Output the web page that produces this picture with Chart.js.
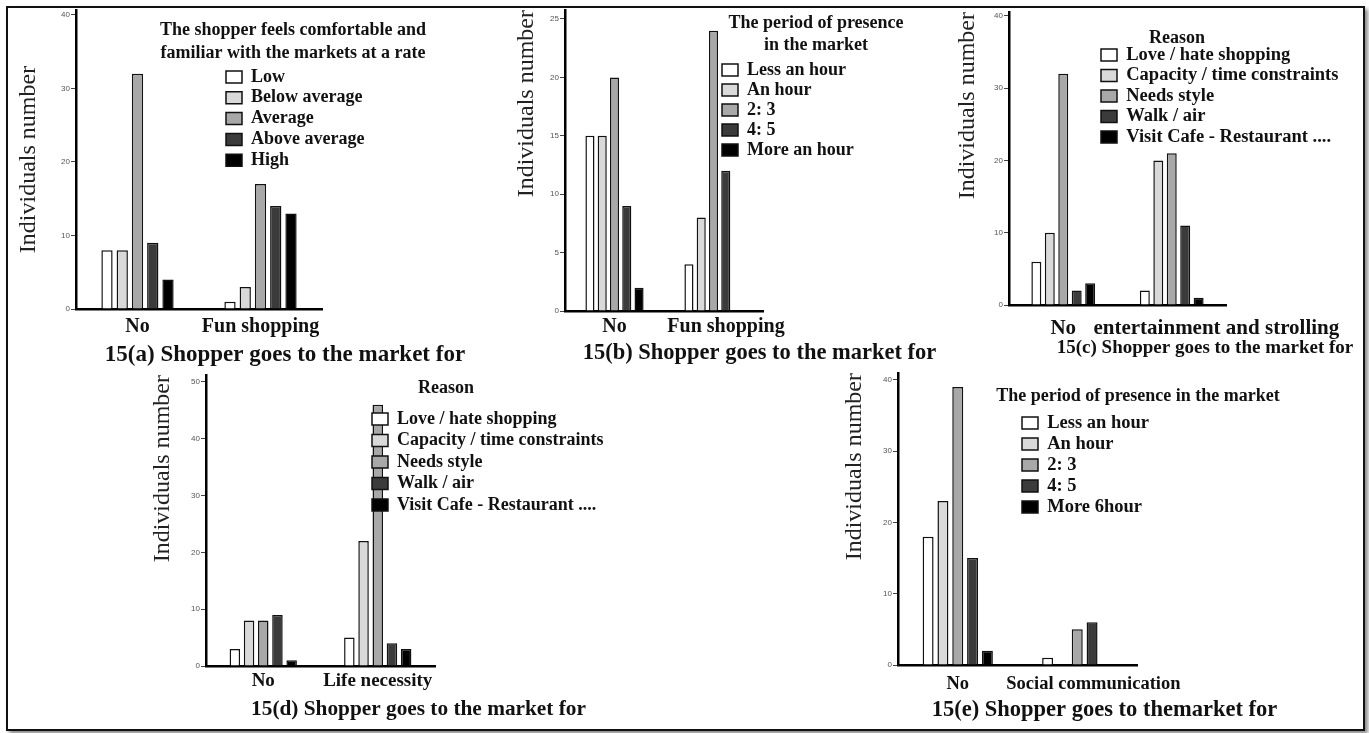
<!DOCTYPE html>
<html>
<head>
<meta charset="utf-8">
<title>Shopper goes to the market for</title>
<script src="https://cdn.jsdelivr.net/npm/chart.js@4.4.1/dist/chart.umd.min.js"></script>
<style>
  html, body { margin: 0; padding: 0; background: #fff; }
  #page { position: relative; width: 1369px; height: 733px; overflow: hidden; background: #fff; }
  #frame { position: absolute; left: 6px; top: 6px; width: 1355px; height: 721px; border: 2px solid #111; box-shadow: 3px 3px 4px #8a8a8a; }
  canvas { position: absolute; }
</style>
</head>
<body>
<div id="page">
  <div id="frame"></div>
  <canvas id="chartA"></canvas>
  <canvas id="chartB"></canvas>
  <canvas id="chartC"></canvas>
  <canvas id="chartD"></canvas>
  <canvas id="chartE"></canvas>
</div>
<script>
// x axis categories of each panel
const catsA = ['No', 'Fun shopping'];
const catsB = ['No', 'Fun shopping'];
const catsC = ['No', 'entertainment and strolling'];
const catsD = ['No', 'Life necessity'];
const catsE = ['No', 'Social communication'];

// legend entries
const comfortLevels = ['Low', 'Below average', 'Average', 'Above average', 'High'];
const periodsB = ['Less an hour', 'An hour', '2: 3', '4: 5', 'More an hour'];
const reasons = ['Love / hate shopping', 'Capacity / time constraints', 'Needs style', 'Walk / air', 'Visit Cafe - Restaurant ....'];
const periodsE = ['Less an hour', 'An hour', '2: 3', '4: 5', 'More 6hour'];

// individuals number (one value per legend entry, per category)
const aNo = [8, 8, 32, 9, 4];
const aFun = [1, 3, 17, 14, 13];
const bNo = [15, 15, 20, 9, 2];
const bFun = [4, 8, 24, 12, 0];
const cNo = [6, 10, 32, 2, 3];
const cFun = [2, 20, 21, 11, 1];
const dNo = [3, 8, 8, 9, 1];
const dLife = [5, 22, 46, 4, 3];
const eNo = [18, 23, 39, 15, 2];
const eSocial = [1, 0, 5, 6, 0];

// y axis tick steps
const yStepA = 10, yStepB = 5, yStepC = 10, yStepD = 10, yStepE = 10;

const serif = "'Liberation Serif', 'Times New Roman', serif";
const shades = ['#ffffff', '#d9d9d9', '#a8a8a8', '#3b3b3b', '#000000'];

Chart.defaults.font.family = serif;
Chart.defaults.color = '#111';

// puts the legend where the figure has it, drawn above the bars
const legendSpot = {
  id: 'legendSpot',
  beforeLayout(chart) {
    const lg = chart.legend;
    if (lg && !lg._spotted) {
      lg._spotted = true;
      lg._layers = () => [{ z: 1, draw: () => { if (lg.options.display) lg._draw(); } }];
    }
  },
  afterLayout(chart, args, opts) {
    const lg = chart.legend;
    if (!lg) return;
    const pad = lg.options.labels.padding;
    lg.left = opts.x - pad;
    lg.top = opts.top;
    lg.width = 2 * (opts.titleX - lg.left);
    lg.right = chart.width;
    lg.bottom = chart.height;
  }
};

function makePanel(p) {
  const canvas = document.getElementById(p.id);
  const left = p.yTitleX - 16;
  const top = p.top - 10;
  const yW = p.axisX - left;
  const W = Math.round(2 * (p.captionX - left));
  const rightW = left + W - p.axisRight;
  const capLH = p.capSize * 1.2;
  const inner = p.zero - top + p.xH + p.capPad + capLH;
  const H = Math.ceil(inner + 2);
  canvas.width = W;
  canvas.height = H;
  canvas.style.left = left + 'px';
  canvas.style.top = top + 'px';

  // legend geometry (canvas coords)
  const pad = p.spacing - p.fs;
  const lgTop = p.titleY - top - p.tfs / 2;
  const titleBottom = (p.legendY - top) - p.fs / 2 - pad - lgTop - p.tfs * p.tlh;

  const datasets = p.series.map(function (name, i) {
    return {
      label: name,
      data: p.groups.map(function (g) { return g[i]; }),
      backgroundColor: shades[i],
      borderColor: '#111',
      borderWidth: 1.5,
      categoryPercentage: 0.62,
      barPercentage: 0.74
    };
  });

  return new Chart(canvas, {
    type: 'bar',
    data: { labels: p.cats, datasets: datasets },
    options: {
      responsive: false,
      animation: false,
      layout: { padding: { left: 0, right: 0, top: 10, bottom: H - inner } },
      scales: {
        x: {
          grid: { display: false, drawTicks: false },
          border: { display: true, color: '#000', width: 2.5 },
          ticks: {
            autoSkip: false,
            maxRotation: 0,
            padding: p.xPad,
            color: '#111',
            font: { size: p.xFont, weight: 'bold' },
            callback: function (value, index) {
              const s = this.getLabelForValue(value);
              return (index === 1 && p.lead) ? ' '.repeat(p.lead) + s : s;
            }
          },
          afterFit: function (s) { s.height = p.xH; }
        },
        y: {
          min: 0,
          max: p.yMax,
          border: { display: true, color: '#000', width: 2.5 },
          grid: { drawOnChartArea: false, drawTicks: true, tickLength: 5, color: '#444' },
          ticks: {
            stepSize: p.yStep,
            includeBounds: false,
            padding: 1,
            color: '#555',
            font: { family: "'Liberation Sans', sans-serif", size: 8 }
          },
          title: {
            display: true,
            text: 'Individuals number',
            align: p.yAlign,
            color: '#222',
            padding: { top: 16 - 24 * 1.2 / 2, bottom: 0 },
            font: { size: 24 }
          },
          afterFit: function (s) { s.width = yW; }
        },
        pad: {
          position: 'right',
          grid: { display: false },
          border: { display: false },
          ticks: { display: false },
          afterFit: function (s) { s.width = rightW; }
        }
      },
      plugins: {
        title: {
          display: true,
          position: 'bottom',
          text: p.caption,
          color: '#111',
          font: { size: p.capSize, weight: 'bold' },
          padding: { top: p.capPad, bottom: 0 }
        },
        legend: {
          position: 'chartArea',
          align: 'start',
          labels: {
            boxWidth: 16,
            boxHeight: 12,
            padding: pad,
            textAlign: 'left',
            color: '#111',
            font: { size: p.fs, weight: 'bold' }
          },
          title: {
            display: true,
            text: p.legendTitle,
            color: '#111',
            font: { size: p.tfs, weight: 'bold', lineHeight: p.tlh },
            padding: { top: 0, bottom: titleBottom }
          }
        },
        tooltip: { enabled: false },
        legendSpot: { x: p.legendX - left, top: lgTop, titleX: p.titleX - left }
      }
    },
    plugins: [legendSpot]
  });
}

makePanel({
  id: 'chartA', cats: catsA, series: comfortLevels, groups: [aNo, aFun],
  axisX: 76, axisRight: 322, top: 10, zero: 309, yMax: 40.68, yStep: yStepA,
  yTitleX: 29, yAlign: 'center',
  caption: '15(a) Shopper goes to the market for', captionX: 285, capSize: 23, capPad: -7.8,
  xH: 40, xPad: 6, xFont: 20,
  legendTitle: ['The shopper feels comfortable and', 'familiar with the markets at a rate'],
  legendX: 226, legendY: 77, spacing: 20.8, fs: 18, titleX: 293, titleY: 30, tfs: 18, tlh: 23 / 18
});

makePanel({
  id: 'chartB', cats: catsB, series: periodsB, groups: [bNo, bFun],
  axisX: 565, axisRight: 763, top: 10, zero: 311, yMax: 25.77, yStep: yStepB,
  yTitleX: 527, yAlign: 'end',
  caption: '15(b) Shopper goes to the market for', captionX: 759.5, capSize: 22.5, capPad: -11.5,
  xH: 40, xPad: 4, xFont: 20, lead: 5,
  legendTitle: ['The period of presence', 'in the market'],
  legendX: 722, legendY: 70, spacing: 20, fs: 18, titleX: 816, titleY: 23, tfs: 18, tlh: 22 / 18
});

makePanel({
  id: 'chartC', cats: catsC, series: reasons, groups: [cNo, cFun],
  axisX: 1009, axisRight: 1226, top: 12, zero: 305, yMax: 40.55, yStep: yStepC,
  yTitleX: 968, yAlign: 'end',
  caption: '15(c) Shopper goes to the market for', captionX: 1205, capSize: 19, capPad: -8.4,
  xH: 40, xPad: 11, xFont: 21, lead: 17,
  legendTitle: 'Reason',
  legendX: 1101, legendY: 55, spacing: 20.5, fs: 18.5, titleX: 1177, titleY: 38, tfs: 18, tlh: 1.2
});

makePanel({
  id: 'chartD', cats: catsD, series: reasons, groups: [dNo, dLife],
  axisX: 206, axisRight: 435, top: 375, zero: 666, yMax: 51.23, yStep: yStepD,
  yTitleX: 163, yAlign: 'end',
  caption: '15(d) Shopper goes to the market for', captionX: 418.5, capSize: 21.3, capPad: -8.8,
  xH: 40, xPad: 4, xFont: 19,
  legendTitle: 'Reason',
  legendX: 372, legendY: 419, spacing: 21.5, fs: 18, titleX: 446, titleY: 388, tfs: 18, tlh: 1.2
});

makePanel({
  id: 'chartE', cats: catsE, series: periodsE, groups: [eNo, eSocial],
  axisX: 898, axisRight: 1137, top: 373, zero: 665, yMax: 40.98, yStep: yStepE,
  yTitleX: 855, yAlign: 'end',
  caption: '15(e) Shopper goes to themarket for', captionX: 1104.5, capSize: 22.5, capPad: -8.5,
  xH: 40, xPad: 8, xFont: 18.5, lead: 7,
  legendTitle: 'The period of presence in the market',
  legendX: 1022, legendY: 423, spacing: 21, fs: 18.5, titleX: 1138, titleY: 396, tfs: 18, tlh: 1.2
});
</script>
</body>
</html>
